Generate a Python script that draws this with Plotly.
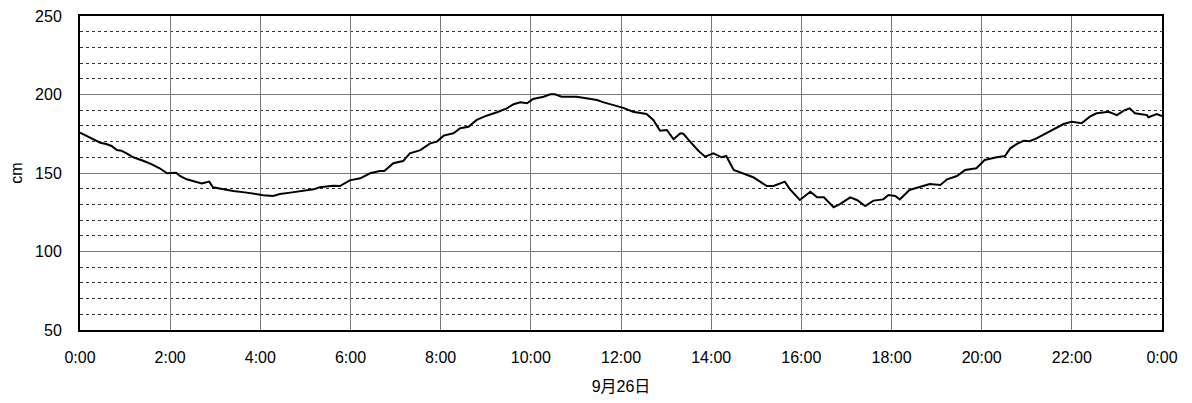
import plotly.graph_objects as go

minutes = [0, 13, 27, 35, 42, 49, 55, 62, 71, 84, 95, 106, 116, 128, 133, 142, 153, 162, 172,
           177, 191, 204, 222, 235, 244, 257, 266, 280, 293, 311, 319, 337, 346, 359, 373,
           386, 399, 405, 417, 430, 439, 453, 466, 475, 484, 497, 506, 517, 528, 541, 555,
           568, 577, 586, 595, 603, 617, 626, 632, 641, 661, 670, 688, 697, 710, 723, 736,
           754, 763, 772, 781, 790, 799, 803, 812, 823, 832, 843, 854, 860, 870, 883, 896,
           914, 923, 938, 945, 958, 972, 981, 990, 1003, 1012, 1025, 1034, 1045, 1056, 1069,
           1076, 1085, 1091, 1104, 1122, 1131, 1145, 1154, 1167, 1178, 1193, 1204, 1220,
           1231, 1238, 1247, 1256, 1264, 1273, 1284, 1295, 1309, 1320, 1333, 1344, 1353,
           1369, 1380, 1389, 1397, 1404, 1420, 1422, 1433, 1440]
level_cm = [175.7, 172.7, 169.3, 168.5, 167.2, 164.6, 164.2, 162.5, 160.0, 157.8, 155.7,
            153.0, 149.8, 150.2, 148.1, 146.0, 144.5, 143.4, 144.5, 140.9, 139.6, 138.5,
            137.5, 136.6, 135.8, 135.4, 136.6, 137.5, 138.5, 139.6, 140.9, 141.9, 141.7,
            145.3, 146.6, 149.8, 151.3, 151.3, 156.2, 157.6, 162.5, 164.6, 168.9, 170.0,
            173.8, 175.3, 178.5, 179.5, 183.8, 186.5, 188.7, 191.2, 193.8, 195.0, 194.4,
            197.1, 198.6, 200.1, 200.1, 198.6, 198.6, 198.0, 196.5, 195.0, 193.3, 191.5,
            189.0, 187.6, 183.8, 176.9, 177.4, 171.5, 175.3, 175.0, 170.0, 164.2, 160.4,
            162.5, 160.0, 160.8, 151.9, 149.8, 147.3, 141.7, 141.7, 144.5, 139.6, 132.8,
            138.1, 134.5, 134.5, 128.2, 130.3, 134.5, 132.8, 129.0, 132.4, 133.2, 136.0,
            135.4, 133.2, 139.2, 141.7, 143.0, 142.4, 146.0, 148.1, 151.9, 153.0, 158.3,
            160.0, 160.8, 165.7, 168.5, 170.6, 170.3, 172.1, 174.8, 177.4, 181.2, 182.7,
            181.7, 185.9, 188.0, 189.0, 186.9, 189.7, 191.2, 188.0, 186.9, 185.5, 187.6,
            186.3]

tick_hours = list(range(0, 25, 2))
tick_labels = ["0:00", "2:00", "4:00", "6:00", "8:00", "10:00", "12:00", "14:00",
               "16:00", "18:00", "20:00", "22:00", "0:00"]
x_title = "9月26日"
y_title = "cm"

hours = [m / 60 for m in minutes]

font_family = "Liberation Sans, Noto Sans CJK JP, sans-serif"

fig = go.Figure(go.Scatter(x=hours, y=level_cm, mode="lines",
                           line=dict(color="black", width=2), hoverinfo="skip"))

# page body has an 8px default margin, so the figure is shrunk and margins offset
fig.update_layout(
    width=1184, height=395,
    margin=dict(l=72, r=30, t=8, b=73),
    paper_bgcolor="white", plot_bgcolor="white",
    showlegend=False,
    font=dict(family=font_family, size=16, color="black"),
)
fig.update_xaxes(
    range=[0, 24], tickmode="array", tickvals=tick_hours, ticktext=tick_labels,
    showgrid=True, gridcolor="#7a7a7a", gridwidth=1,
    showline=True, linecolor="black", linewidth=2, mirror=True,
    ticks="", ticklabelstandoff=12, zeroline=False, automargin=False,
    ticklabeloverflow="allow",
    title=dict(text=x_title, font=dict(size=16), standoff=16),
)
fig.update_yaxes(
    range=[50, 250], tickmode="linear", tick0=50, dtick=50,
    showgrid=True, gridcolor="#7a7a7a", gridwidth=1,
    minor=dict(dtick=10, showgrid=True, gridcolor="#333333", griddash="3px,3px", gridwidth=1),
    showline=True, linecolor="black", linewidth=2, mirror=True,
    ticks="", ticklabelstandoff=13, zeroline=False, automargin=False,
    ticklabeloverflow="allow",
    title=dict(text=y_title, font=dict(size=16), standoff=14),
)

fig.write_html("out.html")
